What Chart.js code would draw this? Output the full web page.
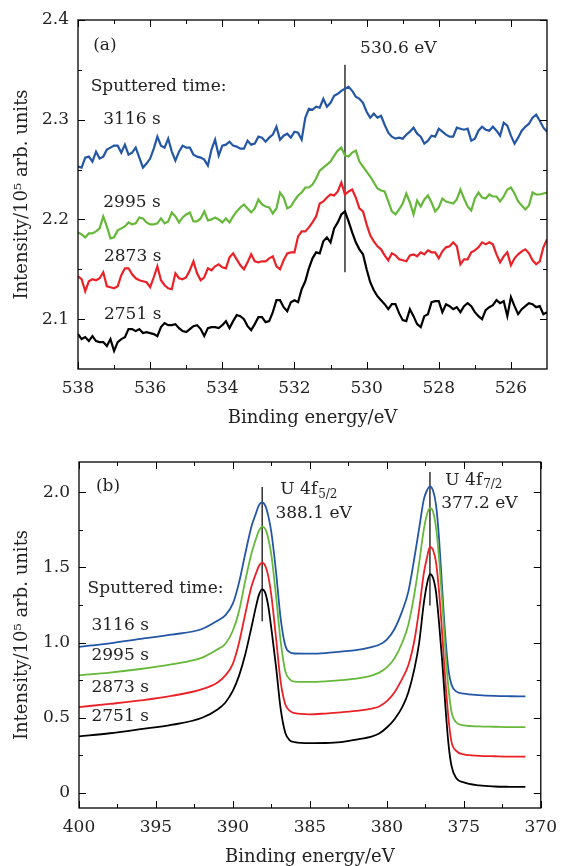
<!DOCTYPE html>
<html>
<head>
<meta charset="utf-8">
<script src="https://cdn.jsdelivr.net/npm/chart.js@4.4.1/dist/chart.umd.min.js"></script>
<style>
  html, body { margin: 0; padding: 0; background: #fff; }
  .panel { position: relative; width: 566px; height: 433px; }
</style>
</head>
<body>
<div class="panel"><canvas id="chartA"></canvas></div>
<div class="panel"><canvas id="chartB"></canvas></div>
<script>
// Panel (a): O 1s region, binding energy in eV (0.1 eV steps)
var energyA = [538.0, 537.9, 537.8, 537.7, 537.6, 537.5, 537.4, 537.3, 537.2, 537.1,
  537.0, 536.9, 536.8, 536.7, 536.6, 536.5, 536.4, 536.3, 536.2, 536.1,
  536.0, 535.9, 535.8, 535.7, 535.6, 535.5, 535.4, 535.3, 535.2, 535.1,
  535.0, 534.9, 534.8, 534.7, 534.6, 534.5, 534.4, 534.3, 534.2, 534.1,
  534.0, 533.9, 533.8, 533.7, 533.6, 533.5, 533.4, 533.3, 533.2, 533.1,
  533.0, 532.9, 532.8, 532.7, 532.6, 532.5, 532.4, 532.3, 532.2, 532.1,
  532.0, 531.9, 531.8, 531.7, 531.6, 531.5, 531.4, 531.3, 531.2, 531.1,
  531.0, 530.9, 530.8, 530.7, 530.6, 530.5, 530.4, 530.3, 530.2, 530.1,
  530.0, 529.9, 529.8, 529.7, 529.6, 529.5, 529.4, 529.3, 529.2, 529.1,
  529.0, 528.9, 528.8, 528.7, 528.6, 528.5, 528.4, 528.3, 528.2, 528.1,
  528.0, 527.9, 527.8, 527.7, 527.6, 527.5, 527.4, 527.3, 527.2, 527.1,
  527.0, 526.9, 526.8, 526.7, 526.6, 526.5, 526.4, 526.3, 526.2, 526.1,
  526.0, 525.9, 525.8, 525.7, 525.6, 525.5, 525.4, 525.3, 525.2, 525.1,
  525.0];

var a2751 = [2.085, 2.080, 2.082, 2.078, 2.083, 2.078, 2.077, 2.077, 2.073, 2.080,
  2.068, 2.077, 2.080, 2.082, 2.090, 2.090, 2.088, 2.090, 2.086, 2.087,
  2.086, 2.085, 2.083, 2.092, 2.096, 2.094, 2.094, 2.095, 2.091, 2.088,
  2.087, 2.090, 2.093, 2.094, 2.090, 2.083, 2.091, 2.092, 2.092, 2.091,
  2.094, 2.098, 2.091, 2.098, 2.104, 2.103, 2.100, 2.093, 2.089, 2.095,
  2.102, 2.102, 2.097, 2.098, 2.107, 2.119, 2.119, 2.112, 2.108, 2.117,
  2.119, 2.117, 2.130, 2.138, 2.151, 2.161, 2.167, 2.166, 2.178, 2.182,
  2.177, 2.191, 2.197, 2.205, 2.208, 2.198, 2.187, 2.177, 2.170, 2.165,
  2.150, 2.137, 2.129, 2.123, 2.119, 2.115, 2.110, 2.115, 2.115, 2.106,
  2.099, 2.098, 2.110, 2.103, 2.095, 2.092, 2.103, 2.105, 2.117, 2.118,
  2.118, 2.107, 2.115, 2.113, 2.110, 2.112, 2.107, 2.113, 2.116, 2.113,
  2.107, 2.103, 2.100, 2.109, 2.112, 2.114, 2.119, 2.116, 2.118, 2.103,
  2.122, 2.113, 2.105, 2.110, 2.113, 2.116, 2.115, 2.112, 2.113, 2.105,
  2.107];

var a2873 = [2.143, 2.140, 2.128, 2.138, 2.140, 2.139, 2.141, 2.147, 2.133, 2.132,
  2.131, 2.133, 2.144, 2.151, 2.151, 2.145, 2.141, 2.139, 2.138, 2.137,
  2.132, 2.142, 2.153, 2.139, 2.134, 2.131, 2.130, 2.146, 2.141, 2.140,
  2.142, 2.149, 2.158, 2.146, 2.139, 2.142, 2.151, 2.149, 2.153, 2.155,
  2.152, 2.151, 2.162, 2.166, 2.160, 2.154, 2.150, 2.157, 2.165, 2.158,
  2.157, 2.158, 2.158, 2.161, 2.163, 2.153, 2.150, 2.159, 2.166, 2.167,
  2.167, 2.183, 2.188, 2.188, 2.192, 2.197, 2.203, 2.216, 2.218, 2.222,
  2.225, 2.224, 2.228, 2.237, 2.225, 2.228, 2.230, 2.222, 2.211, 2.208,
  2.195, 2.184, 2.178, 2.173, 2.170, 2.164, 2.159, 2.166, 2.164, 2.160,
  2.159, 2.158, 2.164, 2.165, 2.163, 2.167, 2.165, 2.169, 2.167, 2.167,
  2.161, 2.168, 2.172, 2.173, 2.177, 2.173, 2.155, 2.160, 2.160, 2.167,
  2.169, 2.172, 2.177, 2.175, 2.177, 2.175, 2.165, 2.157, 2.163, 2.167,
  2.154, 2.161, 2.165, 2.168, 2.170, 2.166, 2.159, 2.155, 2.158, 2.172,
  2.180];

var a2995 = [2.187, 2.185, 2.182, 2.186, 2.186, 2.188, 2.191, 2.203, 2.193, 2.181,
  2.182, 2.189, 2.191, 2.193, 2.197, 2.195, 2.196, 2.202, 2.201, 2.197,
  2.195, 2.195, 2.196, 2.201, 2.196, 2.198, 2.207, 2.203, 2.197, 2.202,
  2.205, 2.207, 2.198, 2.198, 2.201, 2.208, 2.199, 2.200, 2.202, 2.200,
  2.197, 2.201, 2.197, 2.203, 2.208, 2.212, 2.215, 2.211, 2.207, 2.211,
  2.220, 2.215, 2.213, 2.212, 2.206, 2.211, 2.227, 2.222, 2.211, 2.213,
  2.219, 2.224, 2.227, 2.232, 2.232, 2.235, 2.241, 2.249, 2.252, 2.255,
  2.258, 2.264, 2.269, 2.272, 2.264, 2.263, 2.267, 2.269, 2.258, 2.253,
  2.248, 2.243, 2.237, 2.231, 2.229, 2.228, 2.218, 2.208, 2.205, 2.210,
  2.216, 2.226, 2.217, 2.205, 2.219, 2.213, 2.220, 2.224, 2.217, 2.208,
  2.212, 2.221, 2.218, 2.217, 2.216, 2.220, 2.230, 2.221, 2.213, 2.209,
  2.221, 2.227, 2.222, 2.221, 2.225, 2.223, 2.223, 2.218, 2.223, 2.230,
  2.232, 2.226, 2.218, 2.214, 2.210, 2.214, 2.227, 2.225, 2.225, 2.226,
  2.227];

var a3116 = [2.253, 2.252, 2.262, 2.263, 2.258, 2.268, 2.261, 2.263, 2.270, 2.272,
  2.274, 2.274, 2.267, 2.275, 2.265, 2.267, 2.272, 2.262, 2.252, 2.256,
  2.261, 2.271, 2.283, 2.274, 2.272, 2.281, 2.268, 2.259, 2.268, 2.274,
  2.272, 2.272, 2.265, 2.263, 2.262, 2.260, 2.254, 2.270, 2.280, 2.264,
  2.274, 2.275, 2.278, 2.274, 2.273, 2.271, 2.271, 2.279, 2.275, 2.276,
  2.283, 2.282, 2.278, 2.282, 2.285, 2.293, 2.280, 2.284, 2.286, 2.282,
  2.288, 2.287, 2.280, 2.302, 2.311, 2.310, 2.313, 2.312, 2.321, 2.313,
  2.317, 2.324, 2.326, 2.329, 2.331, 2.333, 2.329, 2.323, 2.321, 2.317,
  2.308, 2.302, 2.306, 2.302, 2.304, 2.295, 2.287, 2.283, 2.281, 2.282,
  2.281, 2.285, 2.288, 2.292, 2.286, 2.283, 2.276, 2.279, 2.284, 2.283,
  2.291, 2.288, 2.285, 2.283, 2.283, 2.292, 2.291, 2.290, 2.291, 2.279,
  2.281, 2.289, 2.293, 2.290, 2.289, 2.293, 2.289, 2.284, 2.297, 2.294,
  2.284, 2.276, 2.282, 2.289, 2.293, 2.296, 2.302, 2.305, 2.299, 2.292,
  2.288];

// Panel (b): U 4f region
var energyB = [400, 398, 396, 394, 392, 391, 390.5, 390, 389.6, 389.2,
  388.8, 388.5, 388.3, 388.1, 387.9, 387.7, 387.5, 387.2, 386.9, 386.6,
  386.3, 386, 385, 384, 383, 382, 381, 380.5, 380, 379.5,
  379, 378.6, 378.2, 377.9, 377.6, 377.4, 377.2, 377.0, 376.8, 376.6,
  376.4, 376.2, 376.0, 375.8, 375.5, 375, 374, 373, 372, 371];

var b2751 = [0.376, 0.397, 0.424, 0.452, 0.50, 0.555, 0.60, 0.68, 0.78, 0.92,
  1.10, 1.24, 1.32, 1.353, 1.33, 1.24, 1.09, 0.84, 0.56, 0.40,
  0.35, 0.338, 0.331, 0.332, 0.338, 0.355, 0.375, 0.395, 0.435, 0.49,
  0.57, 0.67, 0.83, 1.0, 1.26, 1.385, 1.455, 1.43, 1.33, 1.12,
  0.87, 0.58, 0.33, 0.18, 0.10, 0.07, 0.05, 0.043, 0.041, 0.04];

var b2873 = [0.571, 0.592, 0.615, 0.645, 0.69, 0.735, 0.78, 0.86, 1.0, 1.19,
  1.37, 1.46, 1.51, 1.531, 1.51, 1.44, 1.31, 1.03, 0.74, 0.59,
  0.545, 0.53, 0.523, 0.528, 0.535, 0.545, 0.56, 0.575, 0.61, 0.67,
  0.76, 0.85, 1.02, 1.22, 1.46, 1.56, 1.635, 1.615, 1.53, 1.33,
  1.05, 0.75, 0.50, 0.34, 0.28, 0.256, 0.247, 0.244, 0.242, 0.242];

var b2995 = [0.782, 0.80, 0.824, 0.855, 0.90, 0.955, 0.99, 1.08, 1.21, 1.41,
  1.59, 1.69, 1.745, 1.771, 1.755, 1.69, 1.58, 1.31, 1.01, 0.81,
  0.755, 0.74, 0.738, 0.742, 0.75, 0.76, 0.78, 0.80, 0.835, 0.895,
  1.0, 1.12, 1.33, 1.53, 1.75, 1.85, 1.893, 1.87, 1.76, 1.55,
  1.27, 0.95, 0.70, 0.54, 0.47, 0.449, 0.442, 0.44, 0.438, 0.438];

var b3116 = [0.971, 0.995, 1.024, 1.052, 1.09, 1.145, 1.18, 1.26, 1.40, 1.59,
  1.77, 1.86, 1.915, 1.931, 1.91, 1.84, 1.73, 1.47, 1.16, 0.98,
  0.935, 0.927, 0.926, 0.93, 0.94, 0.95, 0.97, 0.985, 1.02, 1.09,
  1.21, 1.34, 1.57, 1.76, 1.95, 2.01, 2.038, 2.01, 1.91, 1.68,
  1.35, 1.04, 0.82, 0.72, 0.675, 0.66, 0.65, 0.645, 0.643, 0.642];

// Peak marker lines: energy and intensity span
var markerA = [530.6];
var markerSpanA = [[2.147, 2.355]];
var markerB = [388.1, 377.2];
var markerSpanB = [[1.142, 2.033], [1.246, 2.133]];

// Tick values
var xMajorA = [538, 536, 534, 532, 530, 528, 526];
var xMinorA = [537, 535, 533, 531, 529, 527];
var yMajorA = [2.1, 2.2, 2.3, 2.4];
var yMinorA = [2.15, 2.25, 2.35];
var xMajorB = [400, 395, 390, 385, 380, 375, 370];
var xMinorB = [397.5, 392.5, 387.5, 382.5, 377.5, 372.5];
var yMajorB = [0, 0.5, 1.0, 1.5, 2.0];
var yMinorB = [0.25, 0.75, 1.25, 1.75];

var seriesNames = ['2751 s', '2873 s', '2995 s', '3116 s'];
var seriesColors = ['#000000', '#ea2228', '#66b83a', '#2456a6'];

var notesA = [
  { text: '(a)', x: 537.58, y: 2.374 },
  { text: '530.6 eV', x: 530.18, y: 2.371 },
  { text: 'Sputtered time:', x: 537.65, y: 2.333 },
  { text: '3116 s', x: 537.3, y: 2.300 },
  { text: '2995 s', x: 537.3, y: 2.217 },
  { text: '2873 s', x: 537.28, y: 2.163 },
  { text: '2751 s', x: 537.28, y: 2.105 }
];

var notesB = [
  { text: '(b)', x: 398.9, y: 2.038 },
  { text: 'U 4f', sub: '5/2', x: 386.92, y: 2.018 },
  { text: '388.1 eV', x: 387.24, y: 1.860 },
  { text: 'U 4f', sub: '7/2', x: 376.2, y: 2.078 },
  { text: '377.2 eV', x: 376.47, y: 1.925 },
  { text: 'Sputtered time:', x: 399.44, y: 1.359 },
  { text: '3116 s', x: 399.19, y: 1.113 },
  { text: '2995 s', x: 399.19, y: 0.913 },
  { text: '2873 s', x: 399.19, y: 0.700 },
  { text: '2751 s', x: 399.19, y: 0.507 }
];

var FONT = 'DejaVu Serif';
Chart.defaults.font.family = FONT;
Chart.defaults.font.size = 17;
Chart.defaults.color = '#222';

function toPoints(xs, ys) {
  return xs.map(function (x, i) { return { x: x, y: ys[i] }; });
}

// Frame, inward ticks on all four sides, text notes and axis titles
var framePlugin = {
  id: 'frame',
  afterDraw: function (chart, args, opts) {
    var ctx = chart.ctx;
    var a = chart.chartArea;
    var xs = chart.scales.x;
    var ys = chart.scales.y;

    ctx.save();
    ctx.strokeStyle = '#000';
    ctx.lineWidth = 1.3;
    ctx.strokeRect(a.left, a.top, a.right - a.left, a.bottom - a.top);

    ctx.lineWidth = 1;
    function xTick(v, len) {
      var px = Math.round(xs.getPixelForValue(v)) + 0.5;
      ctx.beginPath();
      ctx.moveTo(px, a.bottom); ctx.lineTo(px, a.bottom - len);
      ctx.moveTo(px, a.top); ctx.lineTo(px, a.top + len);
      ctx.stroke();
    }
    function yTick(v, len) {
      var py = Math.round(ys.getPixelForValue(v)) + 0.5;
      ctx.beginPath();
      ctx.moveTo(a.left, py); ctx.lineTo(a.left + len, py);
      ctx.moveTo(a.right, py); ctx.lineTo(a.right - len, py);
      ctx.stroke();
    }
    opts.xMajor.forEach(function (v) { xTick(v, 7); });
    opts.xMinor.forEach(function (v) { xTick(v, 4); });
    opts.yMajor.forEach(function (v) { yTick(v, 7); });
    opts.yMinor.forEach(function (v) { yTick(v, 4); });

    // notes
    ctx.fillStyle = '#222';
    ctx.textAlign = 'left';
    ctx.textBaseline = 'middle';
    opts.notes.forEach(function (n) {
      var px = xs.getPixelForValue(n.x);
      var py = ys.getPixelForValue(n.y);
      ctx.font = '17px "' + FONT + '"';
      ctx.fillText(n.text, px, py);
      if (n.sub) {
        var w = ctx.measureText(n.text).width;
        ctx.font = '12px "' + FONT + '"';
        ctx.fillText(n.sub, px + w + 1, py + 5);
      }
    });

    // axis titles
    ctx.font = '18px "' + FONT + '"';
    ctx.textAlign = 'center';
    ctx.fillText('Binding energy/eV', (a.left + a.right) / 2, a.bottom + 49);
    ctx.translate(22, (a.top + a.bottom) / 2);
    ctx.rotate(-Math.PI / 2);
    ctx.fillText('Intensity/10\u2075 arb. units', 0, 0);
    ctx.restore();
  }
};

function buildChart(id, cfg) {
  var datasets = cfg.series.map(function (ys, i) {
    return {
      label: seriesNames[i],
      data: toPoints(cfg.energy, ys),
      borderColor: seriesColors[i],
      borderWidth: cfg.lineWidth,
      pointRadius: 0,
      fill: false,
      tension: 0,
      cubicInterpolationMode: cfg.smooth ? 'monotone' : 'default'
    };
  });
  cfg.markers.forEach(function (e, i) {
    datasets.push({
      label: 'marker',
      data: [{ x: e, y: cfg.markerSpans[i][0] }, { x: e, y: cfg.markerSpans[i][1] }],
      borderColor: '#111',
      borderWidth: 1.3,
      pointRadius: 0
    });
  });

  return new Chart(document.getElementById(id), {
    type: 'line',
    data: { datasets: datasets },
    plugins: [framePlugin],
    options: {
      responsive: true,
      maintainAspectRatio: false,
      animation: false,
      devicePixelRatio: 1,
      layout: { padding: { left: 0, right: 19, top: cfg.top, bottom: 0 } },
      plugins: {
        legend: { display: false },
        tooltip: { enabled: false },
        frame: {
          xMajor: cfg.xMajor, xMinor: cfg.xMinor,
          yMajor: cfg.yMajor, yMinor: cfg.yMinor,
          notes: cfg.notes
        }
      },
      scales: {
        x: {
          type: 'linear',
          reverse: true,
          min: cfg.xMin, max: cfg.xMax,
          grid: { display: false, drawTicks: false },
          border: { display: false },
          afterBuildTicks: function (axis) {
            axis.ticks = cfg.xMajor.map(function (v) { return { value: v }; });
          },
          afterFit: function (axis) { axis.height = cfg.xAxisHeight; },
          ticks: {
            padding: 9,
            maxRotation: 0,
            autoSkip: false,
            callback: function (v) { return String(v); }
          }
        },
        y: {
          type: 'linear',
          min: cfg.yMin, max: cfg.yMax,
          grid: { display: false, drawTicks: false },
          border: { display: false },
          afterBuildTicks: function (axis) {
            axis.ticks = cfg.yMajor.map(function (v) { return { value: v }; });
          },
          afterFit: function (axis) { axis.width = cfg.yAxisWidth; },
          ticks: {
            padding: 9,
            autoSkip: false,
            callback: cfg.yFormat
          }
        }
      }
    }
  });
}

buildChart('chartA', {
  energy: energyA,
  series: [a2751, a2873, a2995, a3116],
  lineWidth: 2.2,
  smooth: false,
  markers: markerA, markerSpans: markerSpanA,
  xMin: 525, xMax: 538, yMin: 2.05, yMax: 2.4,
  xMajor: xMajorA, xMinor: xMinorA, yMajor: yMajorA, yMinor: yMinorA,
  notes: notesA,
  top: 20, xAxisHeight: 64, yAxisWidth: 78,
  yFormat: function (v) { return v.toFixed(1); }
});

buildChart('chartB', {
  energy: energyB,
  series: [b2751, b2873, b2995, b3116],
  lineWidth: 1.8,
  smooth: true,
  markers: markerB, markerSpans: markerSpanB,
  xMin: 370, xMax: 400, yMin: -0.1, yMax: 2.2,
  xMajor: xMajorB, xMinor: xMinorB, yMajor: yMajorB, yMinor: yMinorB,
  notes: notesB,
  top: 29, xAxisHeight: 58, yAxisWidth: 79,
  yFormat: function (v) { return v === 0 ? '0' : v.toFixed(1); }
});
</script>
</body>
</html>
